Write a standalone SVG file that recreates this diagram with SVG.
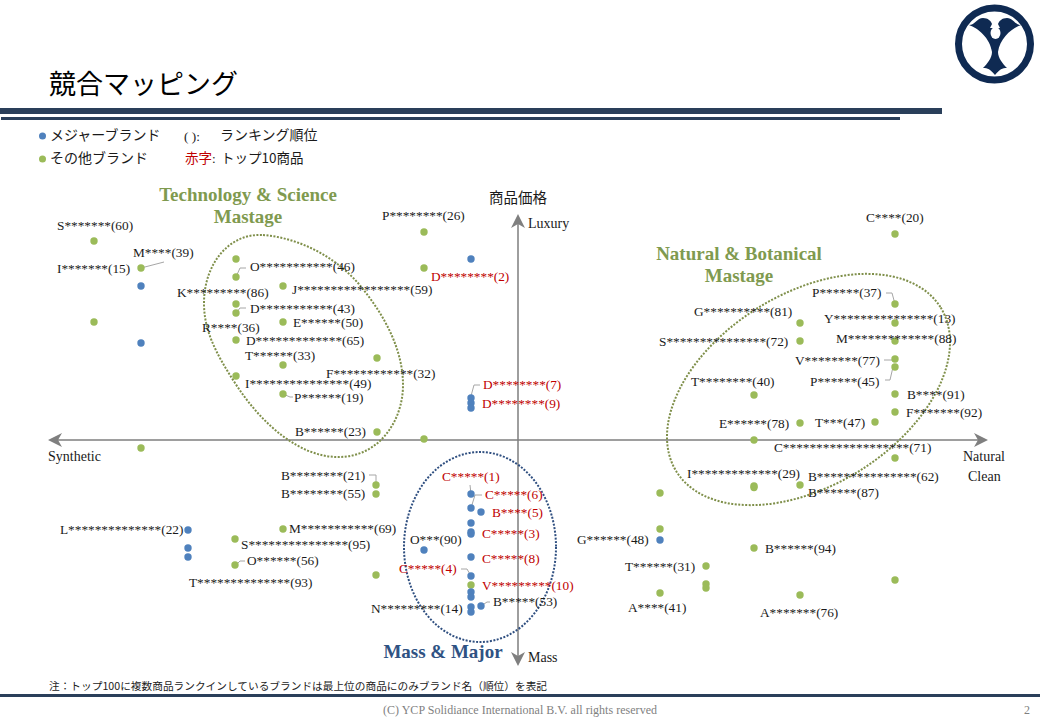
<svg xmlns="http://www.w3.org/2000/svg" width="1040" height="720" viewBox="0 0 1040 720">
<style>
text{font-family:"Liberation Serif","Noto Serif CJK JP","Noto Sans CJK JP",serif;font-size:13.3px;fill:#1a1a1a}
.r{fill:#c00000}
.j{font-family:"Noto Sans CJK JP",sans-serif;font-size:14px}
.h{font-weight:bold;font-size:19px;fill:#7f9a4f;text-anchor:middle}
.a{font-size:14px}
.g{fill:#9bbb59}
.b{fill:#4f81bd}
.l{fill:none;stroke:#a6a6a6;stroke-width:1}
.ax{stroke:#7f7f7f;stroke-width:1.5;fill:none}
.ah{fill:#7f7f7f}
.e{fill:none;stroke:#7f8f4a;stroke-width:2;stroke-dasharray:2 1.500}
.bar{fill:#2a3f5a}
</style>
<g id="header">
<text x="49" y="94" class="j" style="font-size:27px;fill:#000">競合マッピング</text>
<rect class="bar" x="0" y="108" width="942" height="6"/>
<rect class="bar" x="1" y="117" width="899" height="3"/>
</g>
<g id="logo">
<circle cx="994.5" cy="44" r="36" fill="none" stroke="#0f2a52" stroke-width="7"/>
<path fill="#0f2a52" d="M969 25C975 25 977 18 983 18C988 18 991 21 992 24L990 28L1000 28L998 24C999 21 1002 18 1007 18C1013 18 1015 25 1021 25C1012 28 1000 38 998 52C998 58 1003 64 1007 68C1002 68 1000 69 995 75C990 69 988 68 983 68C987 64 992 58 992 52C990 38 978 28 969 25Z"/>
<ellipse cx="995.5" cy="33" rx="5" ry="6" fill="#fff"/>
</g>
<g id="legend">
<circle class="b" cx="42.500" cy="136" r="3.500"/>
<text x="50" y="140" class="j">メジャーブランド</text>
<circle class="g" cx="42.500" cy="159" r="3.500"/>
<text x="50" y="163" class="j">その他ブランド</text>
<text x="184" y="141">( ):</text>
<text x="220" y="140" class="j">ランキング順位</text>
<text x="185" y="163" class="j r" style="font-size:13.500px">赤字</text>
<text x="212" y="163">:</text>
<text x="221" y="163" class="j" style="font-size:13.500px">トップ10商品</text>
</g>
<g id="axes">
<path class="ax" d="M52 440H984M518 218V661"/>
<path class="ah" d="M48 440L62 433L58 440L62 447ZM988 440L974 433L978 440L974 447ZM518 214L511 228L518 224L525 228ZM518 666L511 652L518 656L525 652Z"/>
<text x="489" y="203" class="j" style="font-size:14.500px">商品価格</text>
<text x="528" y="228" class="a">Luxury</text>
<text x="48" y="461" class="a">Synthetic</text>
<text x="963" y="461" class="a">Natural</text>
<text x="968" y="481" class="a">Clean</text>
<text x="528" y="662" class="a">Mass</text>
</g>
<g id="clusters">
<path class="e" d="M263 235C300 238 335 257 358 283C385 315 403 350 403 385C403 420 380 457 338 457C300 457 262 425 235 383C215 352 204 330 204 303C204 265 228 233 263 235Z"/>
<ellipse class="e" cx="808.500" cy="389.500" rx="155.500" ry="96" transform="rotate(-31.800 808.500 389.500)"/>
<ellipse class="e" style="stroke:#2f4f80" cx="480" cy="547" rx="76" ry="95"/>
<text class="h" x="248" y="201">Technology &amp; Science</text>
<text class="h" x="248" y="223">Mastage</text>
<text class="h" x="739" y="260">Natural &amp; Botanical</text>
<text class="h" x="739" y="282">Mastage</text>
<text class="h" style="fill:#2f5283" x="443" y="658">Mass &amp; Major</text>
</g>
<g id="connectors">
<path class="l" d="M141 268L164 262M236 277L240 268H246M236 313L240 308H246M283 394L290 397H293M471 396L474 385H480M886 293H892L895 304M884 360H892M885 380H890L893 367M369 475H376V485M236 565L240 561H245M471 494L470 485M471 508L475 495H482M461 569H467L471 576M481 606L487 602H490"/>
</g>
<g id="dots-other" class="g">
<circle cx="94" cy="241" r="3.700"/><circle cx="141" cy="268" r="3.700"/><circle cx="94" cy="322" r="3.700"/><circle cx="141" cy="448" r="3.700"/>
<circle cx="236" cy="259" r="3.700"/><circle cx="236" cy="277" r="3.700"/><circle cx="236" cy="304" r="3.700"/><circle cx="236" cy="313" r="3.700"/><circle cx="236" cy="340" r="3.700"/><circle cx="236" cy="376" r="3.700"/>
<circle cx="283" cy="286" r="3.700"/><circle cx="283" cy="322" r="3.700"/><circle cx="283" cy="365" r="3.700"/><circle cx="283" cy="394" r="3.700"/>
<circle cx="377" cy="358" r="3.700"/><circle cx="377" cy="432" r="3.700"/><circle cx="424" cy="232" r="3.700"/><circle cx="424" cy="268" r="3.700"/><circle cx="424" cy="439" r="3.700"/>
<circle cx="376" cy="485" r="3.700"/><circle cx="376" cy="494" r="3.700"/><circle cx="283" cy="529" r="3.700"/><circle cx="235" cy="539" r="3.700"/><circle cx="235" cy="565" r="3.700"/><circle cx="376" cy="575" r="3.700"/><circle cx="471" cy="585" r="3.700"/>
<circle cx="895" cy="234" r="3.700"/><circle cx="895" cy="304" r="3.700"/><circle cx="895" cy="323" r="3.700"/><circle cx="895" cy="341" r="3.700"/><circle cx="895" cy="359" r="3.700"/><circle cx="895" cy="367" r="3.700"/><circle cx="895" cy="394" r="3.700"/><circle cx="895" cy="412" r="3.700"/><circle cx="875" cy="422" r="3.700"/>
<circle cx="800" cy="323" r="3.700"/><circle cx="800" cy="341" r="3.700"/><circle cx="754" cy="395" r="3.700"/><circle cx="800" cy="423" r="3.700"/><circle cx="754" cy="440" r="3.700"/><circle cx="895" cy="458" r="3.700"/>
<circle cx="754" cy="486" r="3.700"/><circle cx="754" cy="487.500" r="3.700"/><circle cx="800" cy="485" r="3.700"/><circle cx="660" cy="493" r="3.700"/><circle cx="660" cy="529" r="3.700"/><circle cx="754" cy="548" r="3.700"/>
<circle cx="706" cy="566" r="3.700"/><circle cx="706" cy="584" r="3.700"/><circle cx="706" cy="588" r="3.700"/><circle cx="660" cy="593" r="3.700"/><circle cx="800" cy="595" r="3.700"/><circle cx="895" cy="580" r="3.700"/>
</g>
<g id="dots-major" class="b">
<circle cx="141" cy="286" r="3.700"/><circle cx="141" cy="343" r="3.700"/><circle cx="471" cy="259" r="3.700"/><circle cx="471" cy="398" r="3.700"/><circle cx="471" cy="403" r="3.700"/><circle cx="471" cy="408" r="3.700"/>
<circle cx="471" cy="494" r="3.700"/><circle cx="471" cy="508" r="3.700"/><circle cx="481" cy="512" r="3.700"/><circle cx="471" cy="523" r="3.700"/><circle cx="471" cy="532" r="3.700"/><circle cx="471" cy="534" r="3.700"/><circle cx="424" cy="550" r="3.700"/><circle cx="471" cy="557" r="3.700"/><circle cx="471" cy="576" r="3.700"/>
<circle cx="471" cy="592" r="3.700"/><circle cx="471" cy="597" r="3.700"/><circle cx="471" cy="607" r="3.700"/><circle cx="471" cy="612" r="3.700"/><circle cx="481" cy="606" r="3.700"/>
<circle cx="188" cy="530" r="3.700"/><circle cx="188" cy="548" r="3.700"/><circle cx="188" cy="557" r="3.700"/><circle cx="660" cy="540" r="3.700"/>
</g>
<g id="labels">
<text x="57" y="230">S*******(60)</text>
<text x="133" y="257">M****(39)</text>
<text x="57" y="273">I*******(15)</text>
<text x="177" y="297">K*********(86)</text>
<text x="202" y="332">R****(36)</text>
<text x="250" y="271">O***********(46)</text>
<text x="292" y="294">J*****************(59)</text>
<text x="250" y="313">D***********(43)</text>
<text x="293" y="327">E******(50)</text>
<text x="246" y="345">D*************(65)</text>
<text x="245" y="360">T******(33)</text>
<text x="326" y="378">F************(32)</text>
<text x="245" y="388">I***************(49)</text>
<text x="294" y="402">P******(19)</text>
<text x="295" y="436">B******(23)</text>
<text x="382" y="220">P********(26)</text>
<text x="431" y="281" class="r">D********(2)</text>
<text x="483" y="389" class="r">D********(7)</text>
<text x="482" y="408" class="r">D********(9)</text>
<text x="866" y="222">C****(20)</text>
<text x="812" y="297">P******(37)</text>
<text x="694" y="316">G**********(81)</text>
<text x="824" y="323">Y***************(13)</text>
<text x="659" y="346">S***************(72)</text>
<text x="836" y="343">M*************(88)</text>
<text x="795" y="365">V********(77)</text>
<text x="691" y="386">T********(40)</text>
<text x="810" y="386">P******(45)</text>
<text x="907" y="399">B****(91)</text>
<text x="906" y="417">F*******(92)</text>
<text x="719" y="428">E******(78)</text>
<text x="815" y="427">T***(47)</text>
<text x="774" y="452">C*******************(71)</text>
<text x="687" y="478">I*************(29)</text>
<text x="808" y="481">B***************(62)</text>
<text x="808" y="497">B******(87)</text>
<text x="442" y="481" class="r">C*****(1)</text>
<text x="485" y="499" class="r">C*****(6)</text>
<text x="492" y="517" class="r">B****(5)</text>
<text x="482" y="538" class="r">C*****(3)</text>
<text x="482" y="563" class="r">C*****(8)</text>
<text x="410" y="544">O***(90)</text>
<text x="399" y="573" class="r">C*****(4)</text>
<text x="482" y="590" class="r">V*********(10)</text>
<text x="371" y="613">N*********(14)</text>
<text x="493" y="606">B*****(53)</text>
<text x="281" y="480">B********(21)</text>
<text x="281" y="498">B********(55)</text>
<text x="60" y="534">L**************(22)</text>
<text x="289" y="533">M***********(69)</text>
<text x="241" y="549">S***************(95)</text>
<text x="247" y="565">O******(56)</text>
<text x="189" y="587">T**************(93)</text>
<text x="577" y="544">G******(48)</text>
<text x="765" y="553">B******(94)</text>
<text x="625" y="571">T******(31)</text>
<text x="628" y="612">A****(41)</text>
<text x="760" y="617">A*******(76)</text>
</g>
<g id="footer">
<text x="49" y="690" class="j" style="font-size:10.500px" textLength="498" lengthAdjust="spacingAndGlyphs">注：トップ100に複数商品ランクインしているブランドは最上位の商品にのみブランド名（順位）を表記</text>
<rect class="bar" x="0" y="694" width="1040" height="3"/>
<text x="383" y="714" style="font-size:12px;fill:#7f7f7f" textLength="274">(C) YCP Solidiance  International B.V. all rights reserved</text>
<text x="1024" y="714" style="font-size:12px;fill:#7f7f7f">2</text>
</g>
</svg>
